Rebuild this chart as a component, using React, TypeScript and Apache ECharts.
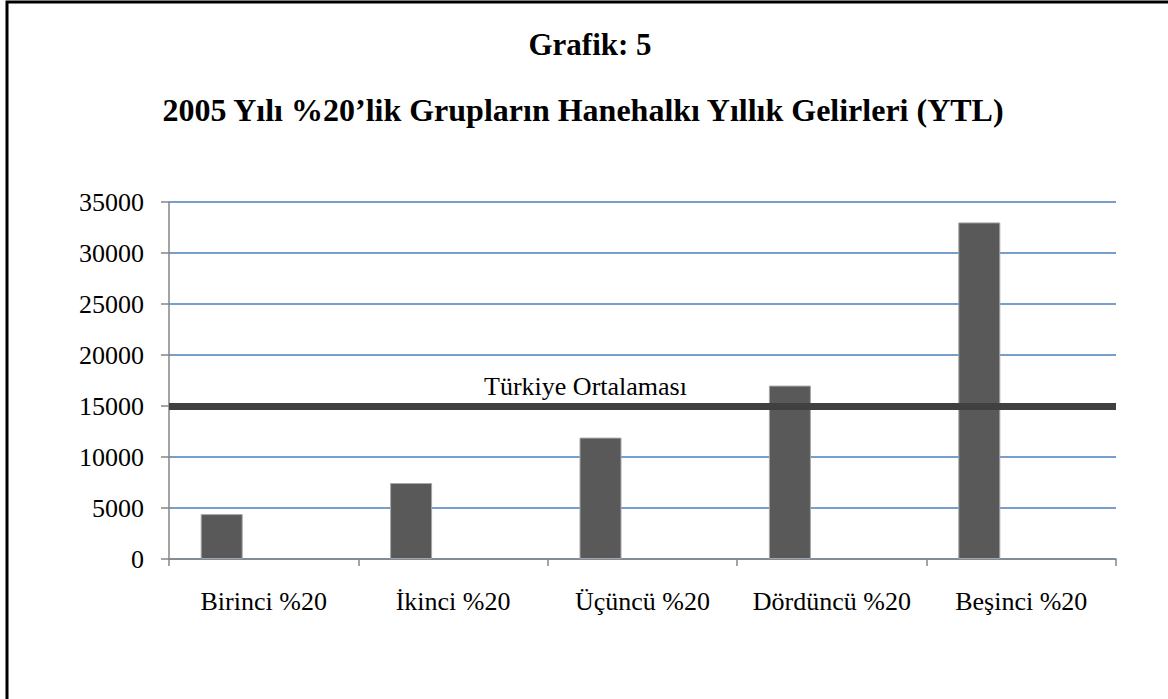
import React, { useEffect, useRef } from "react";
import * as echarts from "echarts";

const categories = ["Birinci %20", "İkinci %20", "Üçüncü %20", "Dördüncü %20", "Beşinci %20"];
const incomes = [4400, 7450, 11900, 17000, 33000];
const emptySeries = ["-", "-", "-", "-", "-"];
const averageValue = 15000;
const averageLabel = "Türkiye Ortalaması";
const titleText = "Grafik: 5";
const subtitleText = "2005 Yılı %20’lik Grupların Hanehalkı Yıllık Gelirleri (YTL)";

const FONT = '"Liberation Serif", "Times New Roman", serif';

export default function App() {
  const ref = useRef<HTMLDivElement>(null);
  useEffect(() => {
    document.body.style.margin = "0";
    const chart = echarts.init(ref.current!, null, { renderer: "svg" });
    chart.setOption({
      animation: false,
      backgroundColor: "#ffffff",
      textStyle: { fontFamily: FONT },
      graphic: [
        {
          type: "rect",
          shape: { x: 7, y: 2, width: 1400, height: 1000 },
          style: { fill: "none", stroke: "#000", lineWidth: 3 },
          silent: true,
        },
        {
          type: "text",
          x: 590,
          y: 44,
          style: {
            text: titleText,
            font: `bold 31px ${FONT}`,
            fill: "#000",
            align: "center",
            verticalAlign: "middle",
          },
        },
        {
          type: "text",
          x: 583,
          y: 110,
          style: {
            text: subtitleText,
            font: `bold 32px ${FONT}`,
            fill: "#000",
            align: "center",
            verticalAlign: "middle",
          },
        },
      ],
      grid: { left: 169, right: 52, top: 202, bottom: 140 },
      xAxis: {
        type: "category",
        data: categories,
        axisLine: { lineStyle: { color: "#868686", width: 1.5 } },
        axisTick: { show: true, length: 7, lineStyle: { color: "#868686", width: 1.5 } },
        axisLabel: { color: "#000", fontSize: 26, fontFamily: FONT, margin: 29, interval: 0 },
      },
      yAxis: {
        type: "value",
        min: 0,
        max: 35000,
        interval: 5000,
        axisLine: { show: true, lineStyle: { color: "#868686", width: 1.5 } },
        axisTick: { show: true, length: 8, lineStyle: { color: "#868686", width: 1.5 } },
        axisLabel: {
          color: "#000",
          fontSize: 26,
          fontFamily: FONT,
          margin: 25,
          formatter: (v: number) => String(v),
        },
        splitLine: { lineStyle: { color: "#4a7ebb", width: 1.5 } },
      },
      series: [
        {
          type: "bar",
          data: incomes,
          barWidth: 42,
          barGap: "100%",
          itemStyle: { color: "#595959", borderColor: "#a6a6a6", borderWidth: 1 },
          markLine: {
            symbol: "none",
            silent: true,
            lineStyle: { color: "#404040", width: 7, type: "solid" },
            label: {
              show: true,
              position: "middle",
              formatter: averageLabel,
              color: "#000",
              fontSize: 26,
              fontFamily: FONT,
              offset: [-57, -2],
            },
            data: [{ yAxis: averageValue }],
          },
        },
        {
          type: "bar",
          data: emptySeries,
          barWidth: 42,
          barGap: "100%",
          itemStyle: { color: "#a0a0a0" },
        },
      ],
    });
    return () => chart.dispose();
  }, []);
  return <div ref={ref} style={{ width: 1168, height: 699 }} />;
}
